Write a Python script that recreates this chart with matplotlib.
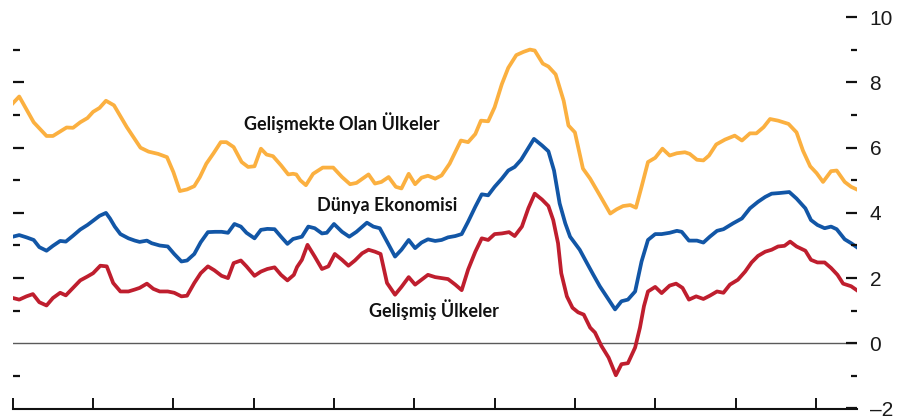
import matplotlib
matplotlib.use("Agg")
import matplotlib.pyplot as plt
from matplotlib.ticker import FixedLocator, FuncFormatter

# ---- data (x in years since start of period, y in percent) ----
emerging_t = [0.00, 0.08, 0.26, 0.42, 0.50, 0.67, 0.75, 0.84, 0.93, 1.00, 1.08, 1.16, 1.26, 1.42, 1.59,
              1.69, 1.81, 1.92, 2.00, 2.08, 2.17, 2.26, 2.33, 2.41, 2.50, 2.59, 2.66, 2.75, 2.85, 2.93,
              3.01, 3.09, 3.16, 3.24, 3.34, 3.43, 3.49, 3.53, 3.58, 3.65, 3.74, 3.86, 3.99, 4.10, 4.20,
              4.28, 4.43, 4.51, 4.59, 4.68, 4.77, 4.84, 4.93, 5.01, 5.09, 5.17, 5.26, 5.34, 5.44, 5.58,
              5.67, 5.76, 5.83, 5.92, 6.00, 6.09, 6.17, 6.27, 6.36, 6.44, 6.50, 6.60, 6.67, 6.76, 6.86,
              6.92, 7.00, 7.10, 7.19, 7.31, 7.44, 7.52, 7.60, 7.69, 7.76, 7.83, 7.91, 8.00, 8.09, 8.18,
              8.27, 8.37, 8.43, 8.52, 8.60, 8.67, 8.76, 8.87, 8.99, 9.08, 9.18, 9.26, 9.35, 9.43, 9.53,
              9.66, 9.76, 9.84, 9.93, 10.01, 10.09, 10.19, 10.26, 10.36, 10.44, 10.51]
emerging_v = [7.36, 7.57, 6.78, 6.36, 6.36, 6.62, 6.61, 6.78, 6.91, 7.10, 7.22, 7.44, 7.30, 6.63, 6.00,
              5.88, 5.81, 5.71, 5.25, 4.67, 4.72, 4.82, 5.10, 5.51, 5.83, 6.17, 6.17, 6.02, 5.56, 5.41,
              5.43, 5.97, 5.79, 5.74, 5.46, 5.18, 5.20, 5.18, 5.00, 4.85, 5.20, 5.39, 5.39, 5.10, 4.88,
              4.92, 5.18, 4.90, 4.95, 5.10, 4.80, 4.75, 5.20, 4.88, 5.08, 5.14, 5.05, 5.15, 5.51, 6.22,
              6.17, 6.42, 6.83, 6.81, 7.24, 7.95, 8.45, 8.84, 8.94, 9.01, 8.98, 8.58, 8.49, 8.25, 7.44,
              6.68, 6.47, 5.36, 5.05, 4.54, 3.98, 4.11, 4.21, 4.24, 4.16, 4.80, 5.56, 5.69, 5.97, 5.76,
              5.83, 5.86, 5.81, 5.63, 5.61, 5.76, 6.10, 6.25, 6.37, 6.22, 6.44, 6.44, 6.63, 6.88, 6.83,
              6.73, 6.47, 5.91, 5.43, 5.22, 4.95, 5.28, 5.30, 4.95, 4.80, 4.72]

world_t = [0.00, 0.08, 0.17, 0.26, 0.33, 0.42, 0.50, 0.59, 0.66, 0.75, 0.84, 0.93, 1.00, 1.08, 1.16,
           1.21, 1.27, 1.34, 1.44, 1.52, 1.58, 1.67, 1.73, 1.83, 1.93, 2.01, 2.10, 2.17, 2.26, 2.34,
           2.43, 2.52, 2.60, 2.68, 2.76, 2.84, 2.91, 3.01, 3.09, 3.17, 3.26, 3.34, 3.42, 3.49, 3.60,
           3.68, 3.76, 3.85, 3.91, 4.00, 4.10, 4.19, 4.28, 4.41, 4.49, 4.57, 4.66, 4.76, 4.84, 4.93,
           5.01, 5.09, 5.17, 5.26, 5.34, 5.42, 5.51, 5.59, 5.67, 5.76, 5.84, 5.92, 6.00, 6.09, 6.17,
           6.25, 6.33, 6.40, 6.49, 6.59, 6.67, 6.74, 6.81, 6.88, 6.94, 7.00, 7.06, 7.15, 7.23, 7.31,
           7.42, 7.50, 7.58, 7.66, 7.75, 7.83, 7.91, 8.00, 8.08, 8.18, 8.27, 8.33, 8.42, 8.52, 8.60,
           8.68, 8.77, 8.85, 8.97, 9.08, 9.18, 9.28, 9.37, 9.45, 9.55, 9.67, 9.76, 9.87, 9.94, 10.02,
           10.11, 10.19, 10.26, 10.36, 10.44, 10.51]
world_v = [3.27, 3.32, 3.25, 3.17, 2.95, 2.84, 2.99, 3.14, 3.12, 3.30, 3.49, 3.63, 3.76, 3.91, 4.00,
           3.83, 3.58, 3.35, 3.22, 3.15, 3.11, 3.15, 3.07, 3.00, 2.97, 2.74, 2.51, 2.54, 2.74, 3.10,
           3.41, 3.42, 3.42, 3.39, 3.66, 3.58, 3.39, 3.22, 3.48, 3.51, 3.50, 3.27, 3.05, 3.20, 3.27,
           3.58, 3.53, 3.37, 3.39, 3.66, 3.42, 3.27, 3.42, 3.70, 3.58, 3.53, 3.12, 2.66, 2.87, 3.17,
           2.92, 3.09, 3.19, 3.14, 3.17, 3.25, 3.29, 3.35, 3.73, 4.19, 4.57, 4.54, 4.80, 5.05, 5.30,
           5.41, 5.63, 5.91, 6.27, 6.07, 5.89, 5.30, 4.29, 3.68, 3.27, 3.07, 2.87, 2.46, 2.10, 1.75,
           1.34, 1.04, 1.29, 1.34, 1.59, 2.51, 3.17, 3.35, 3.35, 3.39, 3.45, 3.42, 3.15, 3.15, 3.09,
           3.27, 3.45, 3.50, 3.68, 3.83, 4.14, 4.34, 4.49, 4.59, 4.61, 4.64, 4.44, 4.14, 3.78, 3.63,
           3.53, 3.58, 3.50, 3.19, 3.07, 2.95]

advanced_t = [0.00, 0.08, 0.17, 0.25, 0.33, 0.42, 0.50, 0.59, 0.66, 0.75, 0.84, 0.93, 1.00, 1.09, 1.17,
              1.25, 1.34, 1.44, 1.52, 1.58, 1.67, 1.75, 1.83, 1.93, 2.01, 2.10, 2.17, 2.26, 2.34, 2.43,
              2.51, 2.60, 2.68, 2.75, 2.84, 2.91, 3.01, 3.09, 3.17, 3.26, 3.34, 3.42, 3.50, 3.54, 3.60,
              3.67, 3.76, 3.85, 3.93, 4.01, 4.10, 4.18, 4.26, 4.35, 4.43, 4.51, 4.58, 4.66, 4.76, 4.84,
              4.93, 5.01, 5.09, 5.17, 5.26, 5.34, 5.42, 5.51, 5.59, 5.67, 5.76, 5.84, 5.92, 6.00, 6.09,
              6.18, 6.25, 6.34, 6.42, 6.50, 6.59, 6.67, 6.73, 6.79, 6.83, 6.90, 6.97, 7.04, 7.11, 7.19,
              7.25, 7.33, 7.42, 7.51, 7.58, 7.66, 7.75, 7.81, 7.86, 7.91, 8.00, 8.08, 8.18, 8.26, 8.34,
              8.42, 8.51, 8.60, 8.68, 8.77, 8.85, 8.93, 9.03, 9.12, 9.20, 9.28, 9.37, 9.45, 9.53, 9.61,
              9.68, 9.76, 9.87, 9.94, 10.02, 10.11, 10.19, 10.27, 10.34, 10.44, 10.51]
advanced_v = [1.39, 1.34, 1.44, 1.51, 1.26, 1.16, 1.39, 1.55, 1.47, 1.70, 1.93, 2.05, 2.15, 2.38, 2.36,
              1.85, 1.59, 1.59, 1.65, 1.70, 1.83, 1.67, 1.59, 1.59, 1.55, 1.44, 1.46, 1.85, 2.15, 2.36,
              2.24, 2.07, 2.00, 2.46, 2.54, 2.36, 2.07, 2.20, 2.28, 2.33, 2.10, 1.93, 2.10, 2.34, 2.56,
              3.02, 2.66, 2.28, 2.36, 2.74, 2.56, 2.38, 2.54, 2.76, 2.87, 2.81, 2.74, 1.85, 1.49, 1.73,
              2.03, 1.80, 1.95, 2.10, 2.03, 2.00, 1.97, 1.80, 1.63, 2.26, 2.81, 3.22, 3.17, 3.35, 3.37,
              3.41, 3.29, 3.58, 4.14, 4.59, 4.41, 4.21, 3.78, 3.07, 2.15, 1.44, 1.09, 0.95, 0.88, 0.48,
              0.33, -0.08, -0.44, -0.98, -0.64, -0.61, -0.13, 0.48, 1.14, 1.59, 1.73, 1.54, 1.77, 1.83, 1.70,
              1.34, 1.44, 1.36, 1.46, 1.59, 1.55, 1.80, 1.95, 2.20, 2.48, 2.68, 2.81, 2.87, 2.97, 2.99,
              3.12, 2.97, 2.84, 2.56, 2.48, 2.48, 2.31, 2.10, 1.83, 1.75, 1.63]

series_labels = ["Gelişmekte Olan Ülkeler", "Dünya Ekonomisi", "Gelişmiş Ülkeler"]
x_ticks = list(range(0, 11))
y_major = [-2, 0, 2, 4, 6, 8, 10]
y_minor = [-1, 1, 3, 5, 7, 9]

ORANGE = "#FBB040"
BLUE = "#1256A6"
RED = "#BF1E2E"

fig = plt.figure(figsize=(9.11, 4.19), dpi=100)
ax = fig.add_axes([12.8 / 911, 1 - 408.5 / 419, (857 - 12.8) / 911, (408.5 - 17.3) / 419])
ax.set_xlim(0, 10.513)
ax.set_ylim(-2, 10)

ax.axhline(0, color="#5a5a5a", lw=1.0, zorder=1)
ax.plot(emerging_t, emerging_v, color=ORANGE, lw=2.7, solid_joinstyle="round", zorder=3)
ax.plot(world_t, world_v, color=BLUE, lw=2.7, solid_joinstyle="round", zorder=3)
ax.plot(advanced_t, advanced_v, color=RED, lw=2.7, solid_joinstyle="round", zorder=3)

for s in ["top", "left", "right"]:
    ax.spines[s].set_visible(False)
ax.spines["bottom"].set_linewidth(1.5)
ax.spines["bottom"].set_color("#111111")

ax.xaxis.set_major_locator(FixedLocator(x_ticks))
ax.tick_params(axis="x", direction="in", length=8, width=1.4, color="#111111", labelbottom=False)

ax.yaxis.set_major_locator(FixedLocator([2, 4, 6, 8]))
ax.yaxis.set_minor_locator(FixedLocator(y_minor))
ax.tick_params(axis="y", which="major", direction="in", length=8, width=1.6, color="#111111",
               left=True, right=False, labelleft=False)
ax.tick_params(axis="y", which="minor", direction="in", length=5, width=1.6, color="#111111",
               left=True, right=False)

ax2 = ax.twinx()
ax2.set_ylim(-2, 10)
for s in ["top", "left", "right", "bottom"]:
    ax2.spines[s].set_visible(False)
ax2.yaxis.set_major_locator(FixedLocator(y_major))
ax2.yaxis.set_minor_locator(FixedLocator(y_minor))
ax2.yaxis.set_major_formatter(FuncFormatter(lambda v, p: f"{int(v)}".replace("-", "\u2013")))
ax2.tick_params(axis="y", which="major", direction="in", length=8, width=1.6, color="#111111",
                pad=9, labelsize=15, labelcolor="#1a1a1a")
ax2.tick_params(axis="y", which="minor", direction="in", length=4, width=1.6, color="#111111")
for lab in ax2.get_yticklabels():
    lab.set_fontfamily(["Liberation Sans Narrow", "Liberation Sans", "DejaVu Sans"])

lab_kw = dict(fontsize=13, fontweight="bold", color="#111111", ha="center", va="center",
              family=["Lato", "DejaVu Sans"])
ax.text(4.10, 6.76, series_labels[0], **lab_kw)
ax.text(4.66, 4.23, series_labels[1], **lab_kw)
ax.text(5.24, 1.03, series_labels[2], **lab_kw)

fig.savefig("out.png", dpi=100)
